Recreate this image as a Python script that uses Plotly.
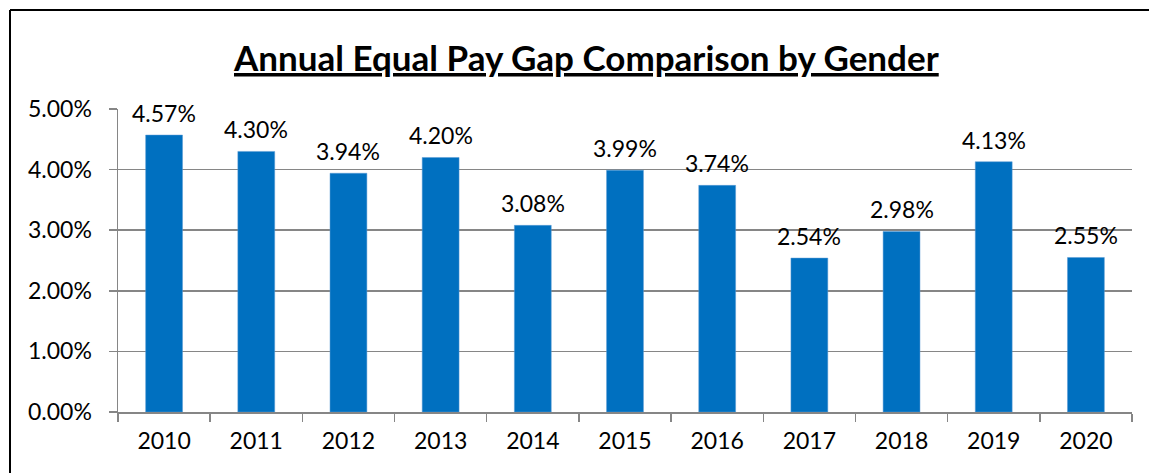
import plotly.graph_objects as go

years = ["2010", "2011", "2012", "2013", "2014", "2015", "2016", "2017", "2018", "2019", "2020"]
gap = [0.0457, 0.0430, 0.0394, 0.0420, 0.0308, 0.0399, 0.0374, 0.0254, 0.0298, 0.0413, 0.0255]
title_text = "Annual Equal Pay Gap Comparison by Gender"

FONT = "Lato, Carlito, Calibri, sans-serif"
W, H = 1149, 473
ml, mr, mt, mb = 118, 17, 109, 61
pw, ph = W - ml - mr, H - mt - mb

fig = go.Figure(go.Bar(
    x=years, y=gap,
    marker=dict(color="#0070C0", line=dict(color="#5B9BD5", width=0.5)),
    hoverinfo="skip",
))

# category axis: annotations placed by category serial index
for i, v in enumerate(gap):
    fig.add_annotation(x=i, y=v, text=f"{v*100:.2f}%", showarrow=False,
                       yanchor="bottom", yshift=6,
                       font=dict(family=FONT, size=23, color="#000000"))

fig.add_annotation(xref="paper", yref="paper", x=(586 - ml) / pw, y=1 + (mt - 57) / ph,
                   text=f"<b><u>{title_text}</u></b>", showarrow=False,
                   xanchor="center", yanchor="middle",
                   font=dict(family=FONT, size=35, color="#000000"))

# outer chart border (only left and top edges visible in the frame)
bx = (10 - ml) / pw
by = 1 + (mt - 10) / ph
fig.add_shape(type="line", xref="paper", yref="paper", x0=bx, x1=bx, y0=by, y1=-0.6,
              line=dict(color="#000000", width=2))
fig.add_shape(type="line", xref="paper", yref="paper", x0=bx, x1=1.3, y0=by, y1=by,
              line=dict(color="#000000", width=2))

fig.update_layout(
    width=W, height=H,
    margin=dict(l=ml, r=mr, t=mt, b=mb),
    paper_bgcolor="white", plot_bgcolor="white",
    bargap=0.6, showlegend=False,
    font=dict(family=FONT, size=23, color="#000000"),
)
fig.update_xaxes(
    type="category", showline=True, linecolor="#868686", linewidth=1.5,
    ticks="outside", tickson="boundaries", ticklen=8, tickcolor="#868686", tickwidth=1.5,
    tickfont=dict(family=FONT, size=23, color="#000000"), showgrid=False,
    tickangle=0, ticklabelstandoff=8,
)
fig.update_yaxes(
    range=[0, 0.05], dtick=0.01, tickformat=".2%",
    showline=True, linecolor="#868686", linewidth=1.5,
    ticks="outside", ticklen=8, tickcolor="#868686", tickwidth=1.5,
    showgrid=True, gridcolor="#868686", gridwidth=1.5, zeroline=False,
    tickfont=dict(family=FONT, size=23, color="#000000"), ticklabelstandoff=12,
)

fig.write_html(
    "out.html",
    config={"displayModeBar": False, "staticPlot": True},
    post_script=("document.documentElement.style.margin='0';"
                 "document.body.style.margin='0';"
                 "document.documentElement.style.overflow='hidden';"
                 "document.body.style.overflow='hidden';"),
)
